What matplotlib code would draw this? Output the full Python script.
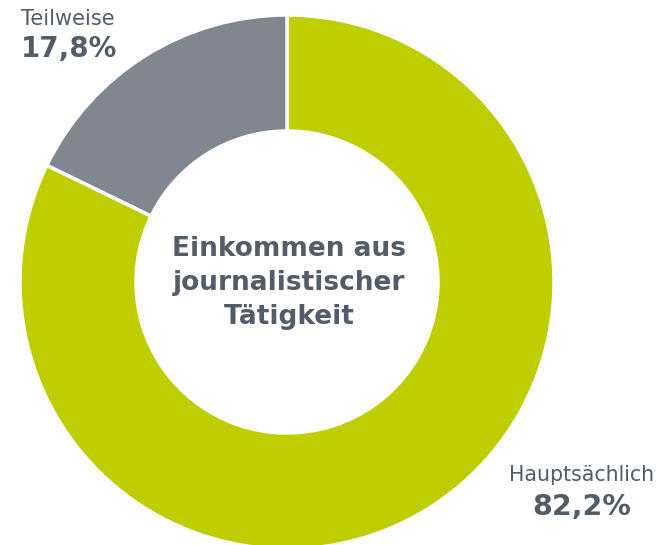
import matplotlib.pyplot as plt

labels = ["Hauptsächlich", "Teilweise"]
values = [82.2, 17.8]
pct_labels = ["82,2%", "17,8%"]
colors = ["#BFCE00", "#7F8791"]
center_title = "Einkommen aus\njournalistischer\nTätigkeit"

text_color = "#525D6B"

fig = plt.figure(figsize=(6.66, 5.45), dpi=100)
ax = fig.add_axes([0, 0, 1, 1])

ax.pie(
    values,
    colors=colors,
    startangle=90,
    counterclock=False,
    center=(287, 263),
    radius=267,
    wedgeprops=dict(width=116, edgecolor="white", linewidth=2.5),
    frame=True,
)
ax.set_xlim(0, 666)
ax.set_ylim(0, 545)
ax.set_aspect("equal")
ax.axis("off")

ax.text(289, 262, center_title, ha="center", va="center", fontsize=19,
        fontweight="bold", color=text_color, linespacing=1.38)

# Teilweise label (top left)
ax.text(21, 526, labels[1], ha="left", va="center", fontsize=15, color=text_color)
ax.text(21, 496, pct_labels[1], ha="left", va="center", fontsize=20,
        fontweight="bold", color=text_color)

# Hauptsaechlich label (bottom right)
ax.text(582, 70, labels[0], ha="center", va="center", fontsize=14.8, color=text_color)
ax.text(582, 38, pct_labels[0], ha="center", va="center", fontsize=20.5,
        fontweight="bold", color=text_color)

fig.savefig("out.png", dpi=100)
